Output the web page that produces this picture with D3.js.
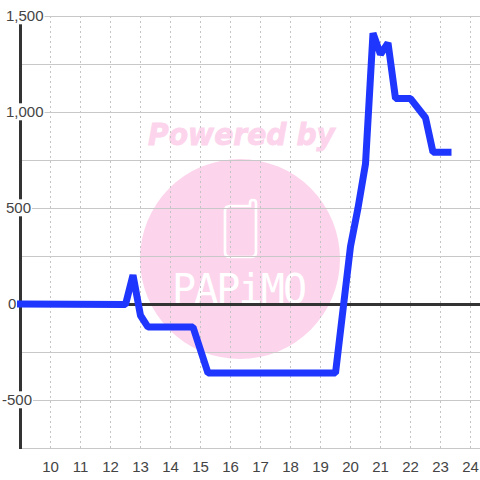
<!DOCTYPE html>
<html>
<head>
<meta charset="utf-8">
<script src="https://cdn.jsdelivr.net/npm/d3@7"></script>
<style>
  html, body { margin: 0; padding: 0; background: #fff; }
  svg { display: block; }
  text { font-family: "Liberation Sans", Arial, sans-serif; }
</style>
</head>
<body>
<div id="chart"></div>
<script>
const hours = [9, 12.5, 12.75, 13, 13.25, 14.75, 15.25, 19.5, 20, 20.25, 20.5, 20.75, 21, 21.25, 21.5, 22, 22.5, 22.75, 23.25];
const values = [0, -3, 150, -60, -120, -120, -360, -360, 300, 500, 730, 1410, 1300, 1360, 1070, 1070, 970, 790, 790];
const xTicks = [10, 11, 12, 13, 14, 15, 16, 17, 18, 19, 20, 21, 22, 23, 24];
const yGrid = [1500, 1250, 1000, 750, 500, 250, 0, -250, -500, -750];
const yLabels = [1500, 1000, 500, 0, -500];

const width = 480;
const height = 480;

const x = d3.scaleLinear().domain([9, 24]).range([20, 470]);
const y = d3.scaleLinear().domain([-750, 1500]).range([448, 16]);

const svg = d3.select('#chart')
  .append('svg')
  .attr('width', width)
  .attr('height', height);

// watermark
const mark = svg.append('g').attr('class', 'watermark');
mark.append('circle')
  .attr('cx', 240)
  .attr('cy', 259)
  .attr('r', 100)
  .attr('fill', '#fcd5ec');
mark.append('text')
  .attr('x', 148)
  .attr('y', 145)
  .attr('textLength', 187)
  .attr('lengthAdjust', 'spacingAndGlyphs')
  .attr('fill', '#fcd5ec')
  .attr('stroke', '#fcd5ec')
  .attr('stroke-width', 0.9)
  .style('font-family', '"DejaVu Sans"')
  .style('font-weight', 'bold')
  .style('font-style', 'italic')
  .style('font-size', '30px')
  .text('Powered by');
mark.append('path')
  .attr('d', 'M230 206 H250 V203 Q250 200 253 200 Q256 200 256 203 V252 Q256 257 251 257 H230 Q225 257 225 252 V211 Q225 206 230 206 Z')
  .attr('fill', 'none')
  .attr('stroke', '#fff')
  .attr('stroke-width', 2.7);
mark.append('text')
  .attr('x', 172)
  .attr('y', 303)
  .attr('textLength', 135)
  .attr('lengthAdjust', 'spacing')
  .attr('fill', '#fff')
  .style('font-family', '"DejaVu Sans Mono"')
  .style('font-size', '40px')
  .text('PAPiMO');

// grid
const xGrid = d3.axisBottom(x)
  .tickValues(xTicks)
  .tickSize(-431)
  .tickFormat('');
svg.append('g')
  .attr('transform', 'translate(0,448)')
  .call(xGrid)
  .call(g => g.select('.domain').remove())
  .call(g => g.selectAll('line')
    .attr('stroke', '#c4c4c4')
    .attr('stroke-dasharray', '2,3'));

const hGrid = d3.axisLeft(y)
  .tickValues(yGrid)
  .tickSize(-(width - 20))
  .tickFormat('');
svg.append('g')
  .attr('transform', 'translate(20,0)')
  .call(hGrid)
  .call(g => g.select('.domain').remove())
  .call(g => g.selectAll('line')
    .attr('stroke', '#c8c8c8'));

// axis lines
svg.append('line')
  .attr('x1', 20.5)
  .attr('x2', 20.5)
  .attr('y1', y(-750) + 1)
  .attr('y2', y(1500))
  .attr('stroke', '#333')
  .attr('stroke-width', 3);
svg.append('line')
  .attr('x1', 20)
  .attr('x2', width)
  .attr('y1', y(0) + 0.5)
  .attr('y2', y(0) + 0.5)
  .attr('stroke', '#333')
  .attr('stroke-width', 3);

// y labels sit on white boxes that cut the axis
const yAxis = d3.axisRight(y)
  .tickValues(yLabels)
  .tickSize(0)
  .tickPadding(0)
  .tickFormat(d => d3.format(',')(d).replace('\u2212', '-'));
const yG = svg.append('g')
  .attr('transform', 'translate(6,0)')
  .call(yAxis);
yG.select('.domain').remove();
yG.selectAll('.tick').each(function (d) {
  const tick = d3.select(this);
  const label = tick.select('text')
    .attr('fill', '#444')
    .style('font-size', '15px')
    .attr('dy', '0.32em');
  if (d === -500) label.attr('x', -4);
  if (d === 0) label.attr('x', 2);
  const box = label.node().getBBox();
  tick.insert('rect', 'text')
    .attr('x', box.x)
    .attr('y', box.y)
    .attr('width', box.width + 1)
    .attr('height', box.height)
    .attr('fill', '#fff');
});

const xAxis = d3.axisBottom(x)
  .tickValues(xTicks)
  .tickSize(0)
  .tickPadding(10)
  .tickFormat(d3.format('d'));
svg.append('g')
  .attr('transform', 'translate(0,451)')
  .call(xAxis)
  .call(g => g.select('.domain').remove())
  .call(g => g.selectAll('text')
    .attr('fill', '#444')
    .style('font-size', '15px'));

// series
const line = d3.line()
  .x((d, i) => x(hours[i]) + 0.5)
  .y(d => y(d));
svg.append('path')
  .datum(values)
  .attr('fill', 'none')
  .attr('stroke', '#1f36ff')
  .attr('stroke-width', 7)
  .attr('stroke-linejoin', 'bevel')
  .attr('stroke-linecap', 'square')
  .attr('d', line);
</script>
</body>
</html>
